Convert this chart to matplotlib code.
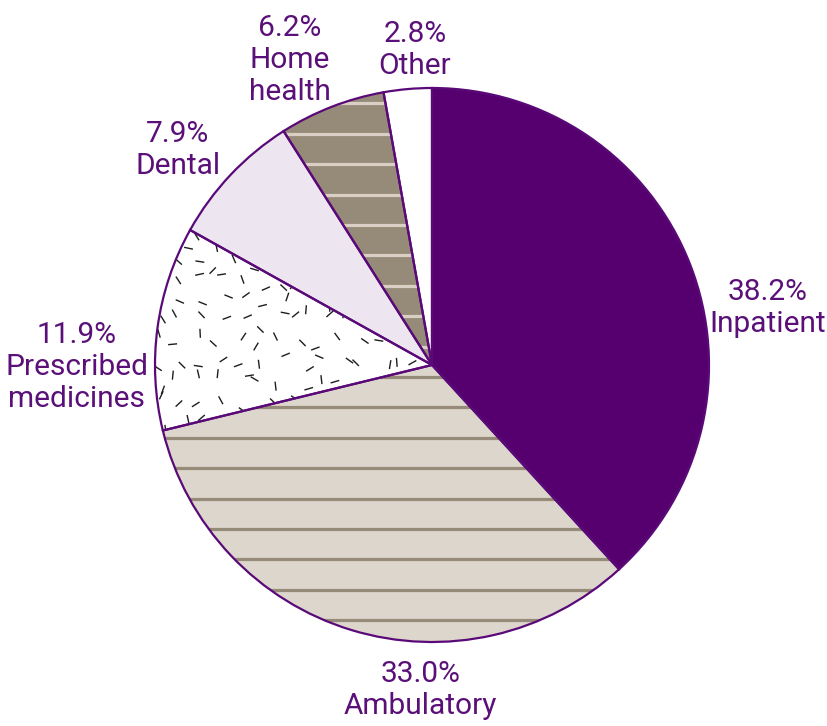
import numpy as np
import matplotlib
matplotlib.use("Agg")
import matplotlib.pyplot as plt
from matplotlib.patches import Wedge

# Share of spending by service type (%)
categories = ["Inpatient", "Ambulatory", "Prescribed\nmedicines", "Dental", "Home\nhealth", "Other"]
shares = [38.2, 33.0, 11.9, 7.9, 6.2, 2.8]

fills = ["#55006e", "#ddd6cc", "#ffffff", "#ede6f0", "#968a78", "#ffffff"]
edge_color = "#5a0a78"
text_color = "#5a1078"

# label centres in axis units (pie radius = 1)
label_xy = [(1.213, 0.206), (-0.043, -1.173), (-1.282, -0.007),
            (-0.917, 0.776), (-0.513, 1.101), (-0.061, 1.137)]

W, H = 827, 726
scale = 277.0
cx, cy = 432.0, 365.0

fig = plt.figure(figsize=(W / 100, H / 100), dpi=100)
ax = fig.add_axes([0, 0, 1, 1])

wedges, _ = ax.pie(shares, startangle=90, counterclock=False, radius=1,
                   center=(0, 0), colors=fills,
                   wedgeprops=dict(linewidth=0), frame=True)
ax.set_xlim(-cx / scale, (W - cx) / scale)
ax.set_ylim(-(H - cy) / scale, cy / scale)
ax.set_aspect("auto")
ax.axis("off")

# horizontal stripes shared by the two striped wedges
step = 30.4 / scale
y0 = -0.0433
ys = y0 + step * np.arange(-12, 12)

def stripes(wedge, color, lw):
    for y in ys:
        ln, = ax.plot([-1.1, 1.1], [y, y], color=color, lw=lw, zorder=2,
                      solid_capstyle="butt")
        ln.set_clip_path(wedge)

stripes(wedges[1], "#968a78", 2.3)
stripes(wedges[4], "#d9cfc4", 2.3)

# speckle texture for prescribed medicines
rng = np.random.default_rng(7)
g = 20.0 / scale
for gx in np.arange(-1.05, 0.1, g):
    for gy in np.arange(-0.35, 0.55, g):
        px = gx + rng.uniform(-0.45, 0.45) * g
        py = gy + rng.uniform(-0.45, 0.45) * g
        ang = rng.uniform(0, np.pi)
        half = 4.5 / scale
        dx, dy = half * np.cos(ang), half * np.sin(ang)
        ln, = ax.plot([px - dx, px + dx], [py - dy, py + dy], color="#1e1e1e",
                      lw=1.0, zorder=2, solid_capstyle="butt")
        ln.set_clip_path(wedges[2])

# wedge outlines on top
for w in wedges:
    ax.add_patch(Wedge(w.center, w.r, w.theta1, w.theta2, facecolor="none",
                       edgecolor=edge_color, lw=1.6, zorder=3))

for name, val, (x, y) in zip(categories, shares, label_xy):
    ax.text(x, y, f"{val:.1f}%\n{name}", ha="center", va="center",
            color=text_color, fontsize=21.5, family="Roboto",
            fontweight="normal", linespacing=1.2)

fig.savefig("out.png", dpi=100)
